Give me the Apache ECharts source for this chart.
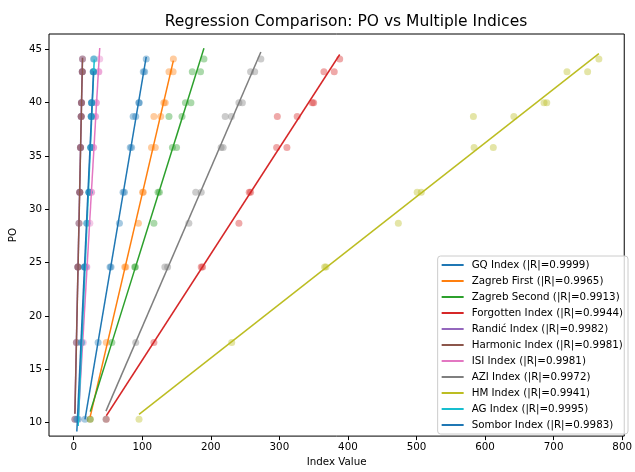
<!DOCTYPE html>
<html>
<head>
<meta charset="utf-8">
<script src="https://cdn.jsdelivr.net/npm/echarts@6/dist/echarts.min.js"></script>
<style>
  html, body { margin: 0; padding: 0; background: #fff; }
  #container { width: 635px; height: 472px; }
</style>
</head>
<body>
<div id="container"></div>
<script>
// PO value of each compound (y axis)
const po = [10.3, 17.5, 24.6, 24.6, 28.7, 31.6, 31.6, 35.8, 35.8, 38.7, 38.7, 40.0, 40.0, 42.9, 42.9, 44.1];

// index values, same compound order as po
const gq        = [16.5, 35.6, 53, 54.5, 66.7, 72, 74, 82.5, 84.5, 86.7, 90.5, 95, 95.6, 101.5, 103.5, 105.8];
const zagreb1   = [24, 47.6, 74.5, 76, 94.4, 100.5, 101.5, 113.5, 119, 117, 127, 131.5, 133.5, 139, 145, 145.4];
const zagreb2   = [24.2, 55.7, 89, 90, 117, 123, 125, 144, 150, 139, 158, 163, 171, 173, 185, 190];
const forgotten = [47.6, 117, 186, 188, 241, 256, 258, 296, 311, 297, 326, 348, 350, 365, 380, 388];
const randic    = [1.7, 3.9, 6.0, 6.2, 7.7, 8.7, 8.9, 9.8, 10.0, 10.8, 11.0, 11.2, 11.4, 12.4, 12.6, 12.8];
const harmonic  = [1.8, 4.0, 6.1, 6.3, 7.8, 8.8, 9.0, 9.9, 10.1, 10.9, 11.1, 11.3, 11.5, 12.5, 12.7, 12.9];
const isi       = [7, 14, 18.8, 19.2, 23.6, 25.8, 26.2, 28.8, 29.2, 31.5, 32, 32.8, 33.2, 36.4, 36.8, 38];
const azi       = [47, 90.5, 133, 137, 168, 178, 186, 215, 218, 221, 230, 241, 246, 258, 264, 273];
const hm        = [95.3, 230.5, 366, 368, 473.5, 501, 507, 584, 612, 583, 642, 686, 690, 719.5, 749.6, 766];
const ag        = [6.5, 12, 16.3, 16.7, 19.5, 22.3, 22.7, 24.8, 25.2, 25.8, 26.2, 26.3, 26.7, 28.8, 29.2, 30];
const sombor    = [4.6, 10.8, 15.4, 15.8, 18.9, 22, 22.4, 24.8, 25.2, 25.3, 25.7, 25.8, 26.2, 28.3, 28.7, 29];

const indexNames = ['GQ Index', 'Zagreb First', 'Zagreb Second', 'Forgotten Index', 'Randić Index',
    'Harmonic Index', 'ISI Index', 'AZI Index', 'HM Index', 'AG Index', 'Sombor Index'];
const rValues = ['0.9999', '0.9965', '0.9913', '0.9944', '0.9982', '0.9981', '0.9981', '0.9972', '0.9941', '0.9995', '0.9983'];
const indexValues = [gq, zagreb1, zagreb2, forgotten, randic, harmonic, isi, azi, hm, ag, sombor];

const colors = ['#1f77b4', '#ff7f0e', '#2ca02c', '#d62728', '#9467bd', '#8c564b',
    '#e377c2', '#7f7f7f', '#bcbd22', '#17becf', '#1f77b4'];

const xTicks = [0, 100, 200, 300, 400, 500, 600, 700, 800];
const yTicks = [10, 15, 20, 25, 30, 35, 40, 45];

// least squares fit of PO against the index
function fitLine(xs, ys) {
    const n = xs.length;
    const mx = xs.reduce((a, b) => a + b, 0) / n;
    const my = ys.reduce((a, b) => a + b, 0) / n;
    let sxy = 0, sxx = 0;
    for (let i = 0; i < n; i++) {
        sxy += (xs[i] - mx) * (ys[i] - my);
        sxx += (xs[i] - mx) * (xs[i] - mx);
    }
    const slope = sxy / sxx;
    const icpt = my - slope * mx;
    const lo = Math.min(...xs), hi = Math.max(...xs);
    return [[lo, slope * lo + icpt], [hi, slope * hi + icpt]];
}

const series = [];
const legendNames = [];
indexNames.forEach((name, i) => {
    const label = name + ' (|R|=' + rValues[i] + ')';
    legendNames.push(label);
    series.push({
        name: name + ' points',
        type: 'scatter',
        symbolSize: 7,
        itemStyle: { color: colors[i], opacity: 0.4 },
        data: indexValues[i].map((v, k) => [v, po[k]])
    });
    series.push({
        name: label,
        type: 'line',
        showSymbol: false,
        symbol: 'none',
        lineStyle: { color: colors[i], width: 1.5 },
        itemStyle: { color: colors[i] },
        data: fitLine(indexValues[i], po)
    });
});

const font = 'DejaVu Sans';
const chart = echarts.init(document.getElementById('container'), null, { renderer: 'canvas' });
chart.setOption({
    animation: false,
    backgroundColor: '#fff',
    title: {
        text: 'Regression Comparison: PO vs Multiple Indices',
        left: 341,
        top: 9,
        textAlign: 'center',
        textStyle: { fontFamily: font, fontSize: 15.5, fontWeight: 'normal', color: '#000' }
    },
    grid: {
        left: 47, right: 3, top: 34, bottom: 32,
        show: true, borderColor: '#000', borderWidth: 1
    },
    legend: {
        data: legendNames,
        orient: 'vertical',
        right: 7,
        bottom: 38,
        icon: 'rect',
        itemWidth: 22,
        itemHeight: 2,
        itemGap: 4,
        padding: [3, 5, 3, 4],
        backgroundColor: 'rgba(255,255,255,0.8)',
        borderColor: '#ccc',
        borderWidth: 1,
        borderRadius: 3,
        selectedMode: false,
        textStyle: { fontFamily: font, fontSize: 10.3, color: '#000', lineHeight: 12, padding: [0, 0, 0, 3] }
    },
    xAxis: {
        type: 'value',
        min: -36,
        max: 803,
        name: 'Index Value',
        nameLocation: 'middle',
        nameGap: 19,
        nameTextStyle: { fontFamily: font, fontSize: 10.3, color: '#000' },
        axisLine: { show: false, onZero: false },
        splitLine: { show: false },
        axisTick: { show: true, length: 4, customValues: xTicks, lineStyle: { color: '#000' } },
        axisLabel: { customValues: xTicks, margin: 6, fontFamily: font, fontSize: 10.3, color: '#000' }
    },
    yAxis: {
        type: 'value',
        min: 8.73,
        max: 46.44,
        name: 'PO',
        nameLocation: 'middle',
        nameGap: 26,
        nameTextStyle: { fontFamily: font, fontSize: 10.3, color: '#000' },
        axisLine: { show: false, onZero: false },
        splitLine: { show: false },
        axisTick: { show: true, length: 4, customValues: yTicks, lineStyle: { color: '#000' } },
        axisLabel: { customValues: yTicks, margin: 7, fontFamily: font, fontSize: 10.3, color: '#000' }
    },
    series: series
});
window.addEventListener('resize', () => chart.resize());
</script>
</body>
</html>
